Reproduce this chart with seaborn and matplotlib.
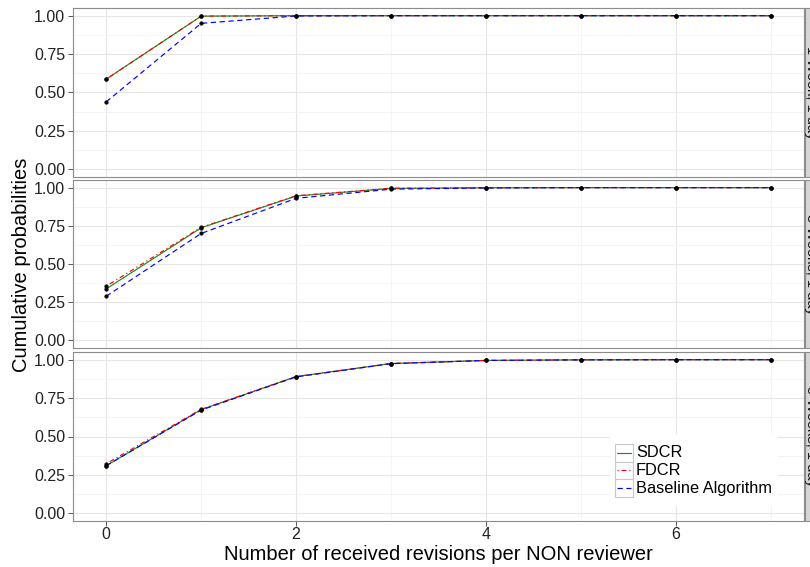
import matplotlib
matplotlib.use("Agg")
import matplotlib.pyplot as plt
from matplotlib.patches import Rectangle
from matplotlib.lines import Line2D
from matplotlib.ticker import FixedLocator
import pandas as pd
import seaborn as sns

# ---- data ---------------------------------------------------------------
revisions = [0, 1, 2, 3, 4, 5, 6, 7]
algorithms = ["SDCR", "FDCR", "Baseline Algorithm"]
panel_labels = ["1 Week, 1 day", "3 Weeks, 1 day", "5 Weeks, 1 day"]

sdcr_p1 = [0.587, 0.997, 1.000, 1.000, 1.000, 1.000, 1.000, 1.000]
fdcr_p1 = [0.587, 0.997, 1.000, 1.000, 1.000, 1.000, 1.000, 1.000]
base_p1 = [0.439, 0.950, 0.998, 1.000, 1.000, 1.000, 1.000, 1.000]

sdcr_p2 = [0.337, 0.737, 0.945, 0.995, 0.999, 1.000, 1.000, 1.000]
fdcr_p2 = [0.355, 0.740, 0.947, 0.996, 0.999, 1.000, 1.000, 1.000]
base_p2 = [0.289, 0.700, 0.930, 0.990, 0.998, 1.000, 1.000, 1.000]

sdcr_p3 = [0.310, 0.675, 0.890, 0.975, 0.995, 0.999, 1.000, 1.000]
fdcr_p3 = [0.323, 0.677, 0.890, 0.975, 0.995, 0.999, 1.000, 1.000]
base_p3 = [0.310, 0.672, 0.888, 0.974, 0.995, 0.999, 1.000, 1.000]

series = {
    panel_labels[0]: {"SDCR": sdcr_p1, "FDCR": fdcr_p1, "Baseline Algorithm": base_p1},
    panel_labels[1]: {"SDCR": sdcr_p2, "FDCR": fdcr_p2, "Baseline Algorithm": base_p2},
    panel_labels[2]: {"SDCR": sdcr_p3, "FDCR": fdcr_p3, "Baseline Algorithm": base_p3},
}

rows = []
for panel, algs in series.items():
    for alg, vals in algs.items():
        for r, v in zip(revisions, vals):
            rows.append({"panel": panel, "algorithm": alg, "revisions": r, "prob": v})
df = pd.DataFrame(rows)

# ---- styling ------------------------------------------------------------
sns.set_theme(style="white")
plt.rcParams["font.family"] = ["Liberation Sans", "DejaVu Sans"]

palette = {"SDCR": "#1E8C1E", "FDCR": "#FF0000", "Baseline Algorithm": "#0000FF"}
dashes = {"SDCR": "", "FDCR": (1, 2.5, 4, 2.5), "Baseline Algorithm": (4.5, 3)}

W, H = 810, 567
fig = plt.figure(figsize=(W / 100, H / 100), dpi=100)
fig.patch.set_facecolor("white")


def fx(px):
    return px / W


def fy(py):
    return 1 - py / H


panel_left, panel_right = 73, 804
panel_tops = [(8, 177), (180, 348), (352, 521)]
border_col = "#8C8C8C"
major_grid = "#E6E6E6"
minor_grid = "#F3F3F3"

axes = []
for i, (top, bot) in enumerate(panel_tops):
    ax = fig.add_axes([fx(panel_left), fy(bot), fx(panel_right - panel_left), (bot - top) / H])
    sub = df[df["panel"] == panel_labels[i]]
    sns.lineplot(data=sub, x="revisions", y="prob", hue="algorithm", style="algorithm",
                 hue_order=algorithms, style_order=algorithms, palette=palette,
                 dashes=dashes, linewidth=0.85, legend=False, ax=ax, zorder=3)
    sns.scatterplot(data=sub, x="revisions", y="prob", color="black", s=7,
                    edgecolor="black", linewidth=0.3, legend=False, ax=ax, zorder=4)
    ax.set_xlim(-0.35, 7.35)
    ax.set_ylim(-0.05, 1.05)
    ax.yaxis.set_major_locator(FixedLocator([0, 0.25, 0.5, 0.75, 1.0]))
    ax.yaxis.set_minor_locator(FixedLocator([0.125, 0.375, 0.625, 0.875]))
    ax.xaxis.set_major_locator(FixedLocator([0, 2, 4, 6]))
    ax.xaxis.set_minor_locator(FixedLocator([1, 3, 5, 7]))
    ax.set_yticklabels(["0.00", "0.25", "0.50", "0.75", "1.00"])
    ax.grid(which="major", color=major_grid, linewidth=0.8, zorder=0)
    ax.grid(which="minor", color=minor_grid, linewidth=0.6, zorder=0)
    ax.set_axisbelow(True)
    for sp in ax.spines.values():
        sp.set_visible(True)
        sp.set_color(border_col)
        sp.set_linewidth(0.8)
    ax.tick_params(axis="y", which="major", left=True, length=3.5, width=0.7,
                   color="#555555", labelsize=11.5, labelcolor="#222222", pad=2)
    ax.tick_params(axis="both", which="minor", length=0)
    if i < 2:
        ax.tick_params(axis="x", which="major", bottom=False, labelbottom=False)
    else:
        ax.tick_params(axis="x", which="major", bottom=True, length=3.5, width=0.7,
                       color="#555555", labelsize=11.5, labelcolor="#222222", pad=1)
    ax.set_xlabel("")
    ax.set_ylabel("")
    axes.append(ax)

    # facet strip on the right side
    strip = Rectangle((fx(panel_right + 1), fy(bot)), fx(30), (bot - top) / H,
                      transform=fig.transFigure, facecolor="#D6D6D6",
                      edgecolor=border_col, linewidth=0.8, clip_on=False)
    fig.patches.append(strip)
    fig.text(fx(811.5), fy((top + bot) / 2), panel_labels[i], rotation=270,
             ha="center", va="center", fontsize=10.5, color="#1A1A1A")

axes[2].set_xticklabels(["0", "2", "4", "6"])

fig.text(fx((panel_left + panel_right) / 2), fy(554), "Number of received revisions per NON reviewer",
         ha="center", va="center", fontsize=14.5, color="black")
fig.text(fx(22), fy((panel_tops[0][0] + panel_tops[2][1]) / 2), "Cumulative probabilities",
         rotation=90, ha="center", va="center", fontsize=14.5, color="black")

# ---- legend (inside bottom panel) --------------------------------------
leg_bg = Rectangle((fx(610), fy(506)), fx(168), 72 / H, transform=fig.transFigure,
                   facecolor="white", edgecolor="none", zorder=5)
fig.patches.append(leg_bg)
key_h = 17.6
key_top = 444
for j, alg in enumerate(algorithms):
    y0 = key_top + j * key_h
    key = Rectangle((fx(615), fy(y0 + key_h)), fx(18), key_h / H, transform=fig.transFigure,
                    facecolor="white", edgecolor="#C8C8C8", linewidth=0.8, zorder=6)
    fig.patches.append(key)
    ls = "-" if alg == "SDCR" else (0, dashes[alg])
    ln = Line2D([fx(617), fx(631)], [fy(y0 + key_h / 2)] * 2, transform=fig.transFigure,
                color=palette[alg], linewidth=0.85, linestyle=ls, zorder=7)
    fig.lines.append(ln)
    fig.text(fx(636), fy(y0 + key_h / 2), alg, ha="left", va="center",
             fontsize=11.8, color="black", zorder=7)

fig.savefig("out.png", dpi=100, facecolor="white")
